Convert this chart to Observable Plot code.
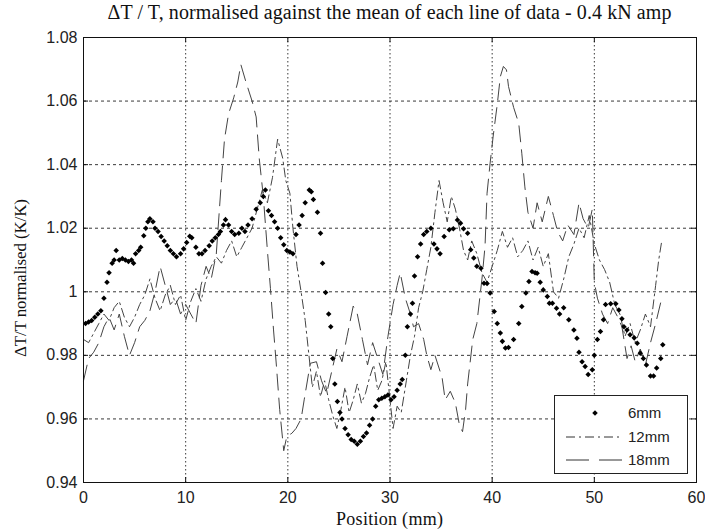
<!DOCTYPE html>
<html><head><meta charset="utf-8">
<script src="https://cdn.jsdelivr.net/npm/d3@7"></script>
<script src="https://cdn.jsdelivr.net/npm/@observablehq/plot@0.6"></script>
<style>
body{margin:0;background:#fff;}
#wrap{position:relative;width:705px;height:532px;overflow:hidden;}
#head{height:27px;}
#overlay{position:absolute;left:0;top:0;pointer-events:none;}
</style></head>
<body><div id="wrap"><div id="head"></div><div id="chart"></div><svg id="overlay" width="705" height="532"></svg></div>
<script>
// ---- data ----
const titleText = "ΔT / T, normalised against the mean of each line of data - 0.4 kN amp";
const xLabel = "Position (mm)";
const yLabel = "ΔT/T normalised (K/K)";
const xTicks = [0,10,20,30,40,50,60];
const yTicks = [0.94,0.96,0.98,1.00,1.02,1.04,1.06,1.08];
const seriesNames = ["6mm","12mm","18mm"];

const mm6X = [0.2,0.5,0.8,1.1,1.4,1.7,2.0,2.3,2.5,2.8,3.0,3.2,3.5,3.8,4.1,4.4,4.7,4.9,5.1,5.4,5.6,5.9,6.1,6.3,6.5,6.8,7.0,7.3,7.6,7.9,8.2,8.5,8.8,9.1,9.5,9.8,10.1,10.4,10.6,11.0,11.3,11.6,11.9,12.3,12.6,12.9,13.2,13.4,13.7,13.9,14.2,14.5,14.8,15.2,15.5,15.8,16.1,16.5,16.9,17.3,17.6,17.8,18.1,18.4,18.7,19.0,19.3,19.6,19.9,20.2,20.5,20.8,21.1,21.4,21.7,22.1,22.3,22.5,22.9,23.2,23.4,23.7,24.0,24.2,24.4,24.6,24.85,25.1,25.3,25.6,25.9,26.2,26.5,26.8,27.1,27.4,27.7,28.0,28.3,28.6,28.9,29.2,29.5,29.8,30.1,30.4,30.7,31.0,31.2,31.5,31.7,32.0,32.2,32.4,32.7,33.0,33.3,33.6,34.0,34.3,34.6,34.9,35.3,35.8,36.2,36.6,36.9,37.2,37.6,37.9,38.2,38.5,38.9,39.2,39.5,39.8,40.2,40.5,40.8,41.0,41.3,41.6,42.1,42.6,42.9,43.3,43.6,43.9,44.2,44.4,44.7,45.0,45.4,45.6,45.9,46.3,46.6,47.0,47.5,48.0,48.3,48.5,48.8,49.1,49.4,49.8,50.0,50.3,50.6,50.9,51.1,51.6,52.1,52.4,52.7,52.9,53.2,53.5,53.9,54.2,54.5,54.8,55.1,55.5,55.8,56.1,56.5,56.7];
const mm6Y = [0.990,0.9905,0.991,0.992,0.993,0.994,0.998,1.003,1.006,1.009,1.010,1.013,1.010,1.0105,1.010,1.0095,1.010,1.009,1.012,1.013,1.014,1.0176,1.020,1.022,1.023,1.022,1.020,1.019,1.0174,1.016,1.0145,1.013,1.012,1.011,1.012,1.0135,1.0155,1.0175,1.017,1.014,1.012,1.012,1.013,1.0145,1.016,1.017,1.018,1.019,1.021,1.0227,1.021,1.019,1.018,1.0184,1.020,1.019,1.021,1.023,1.026,1.028,1.030,1.032,1.0255,1.024,1.022,1.020,1.017,1.0148,1.013,1.0125,1.012,1.018,1.021,1.024,1.028,1.032,1.0315,1.029,1.025,1.0184,1.009,0.9998,0.993,0.989,0.979,0.971,0.9655,0.962,0.960,0.957,0.955,0.9535,0.953,0.952,0.953,0.9545,0.9556,0.958,0.960,0.964,0.966,0.9665,0.967,0.9675,0.966,0.967,0.969,0.971,0.9724,0.980,0.989,0.993,0.9964,1.005,1.011,1.015,1.018,1.019,1.020,1.015,1.0135,1.012,1.0174,1.0195,1.0198,1.0226,1.0216,1.0198,1.0184,1.0132,1.0106,1.008,1.0074,1.0027,1.0026,0.9996,0.9938,0.990,0.987,0.9844,0.9823,0.9825,0.985,0.990,0.9954,0.9996,1.0032,1.0064,1.006,1.0058,1.003,1.0006,0.9985,0.9964,0.9964,0.9948,0.993,0.995,0.9912,0.988,0.9854,0.981,0.978,0.9765,0.974,0.9755,0.980,0.985,0.9875,0.9912,0.996,0.9962,0.9962,0.9943,0.9915,0.989,0.988,0.9865,0.9855,0.9838,0.9807,0.979,0.977,0.9735,0.9735,0.976,0.979,0.9833];

const mm12X = [0,0.5,1.0,1.5,2.0,2.5,3.0,3.5,4.0,4.5,5.0,5.5,6.0,6.5,7.0,7.5,8.0,8.5,9.0,9.5,10.0,10.5,11.0,11.5,12.0,12.5,13.0,13.5,14.0,14.5,15.0,15.5,16.0,16.5,17.0,17.5,18.0,18.5,19.0,19.5,19.8,20.2,20.5,20.9,21.3,21.7,22.0,22.4,22.8,23.2,23.6,24.0,24.4,24.8,25.2,25.6,26.0,26.4,26.8,27.2,27.6,28.0,28.4,28.8,29.2,29.6,30.0,30.3,30.7,31.1,31.6,32.0,32.4,32.8,33.2,33.6,34.0,34.4,34.8,35.2,35.6,36.0,36.4,36.8,37.2,37.6,38.0,38.5,39.0,39.5,40.0,40.5,41.0,41.5,42.0,42.5,43.0,43.5,44.0,44.5,45.0,45.5,46.0,46.5,47.0,47.5,48.0,48.5,49.0,49.5,50.0,50.5,51.0,51.5,52.0,52.5,53.0,53.5,54.0,54.5,55.0,55.5,56.0,56.3,56.6];
const mm12Y = [0.985,0.984,0.987,0.990,0.993,0.991,0.995,0.997,0.992,0.989,0.992,0.996,0.999,1.004,0.998,0.994,0.999,1.002,0.996,0.999,0.991,0.997,1.001,0.997,1.004,1.008,1.011,1.009,1.013,1.016,1.011,1.014,1.017,1.020,1.026,1.032,1.028,1.036,1.048,1.042,1.035,1.031,1.020,1.008,1.000,0.991,0.982,0.970,0.975,0.967,0.972,0.966,0.961,0.957,0.963,0.970,0.962,0.966,0.971,0.965,0.968,0.973,0.977,0.969,0.972,0.978,0.966,0.957,0.964,0.962,0.972,0.980,0.986,0.995,1.000,1.007,1.014,1.025,1.035,1.028,1.022,1.030,1.026,1.020,1.013,1.010,1.016,1.012,1.006,1.003,1.008,1.013,1.019,1.014,1.017,1.011,1.013,1.016,1.010,1.014,1.008,1.012,1.000,0.998,1.004,1.011,1.015,1.020,1.017,1.024,1.015,1.010,1.007,1.003,0.996,0.993,0.986,0.990,0.984,0.988,0.993,0.989,1.002,1.010,1.016];

const mm18X = [0,0.5,1.0,1.5,2.0,2.5,3.0,3.5,4.0,4.5,5.0,5.5,6.0,6.5,7.0,7.5,8.0,8.5,9.0,9.5,10.0,10.5,11.0,11.5,12.0,12.5,13.0,13.5,13.8,14.2,14.7,15.1,15.4,15.9,16.5,16.9,17.2,17.6,18.0,18.3,18.6,18.9,19.2,19.6,19.9,20.4,20.8,21.3,21.6,22.2,22.8,23.3,23.8,24.3,24.8,25.3,25.8,26.4,26.8,27.3,27.8,28.3,28.8,29.3,29.8,30.3,30.7,31.0,31.5,32.0,32.3,32.8,33.3,33.6,34.0,34.4,35.1,35.4,35.9,36.4,36.8,37.1,37.4,37.6,38.1,38.5,39.0,39.3,39.5,39.8,40.1,40.5,40.8,41.1,41.4,41.6,42.1,42.6,42.9,43.2,43.5,44.0,44.4,44.9,45.5,46.0,46.4,46.9,47.4,48.0,48.5,48.9,49.4,49.8,50.0,50.3,50.8,51.3,51.8,52.3,52.7,53.2,53.6,54.0,54.5,55.0,55.5,56.0,56.6];
const mm18Y = [0.972,0.979,0.981,0.984,0.989,0.992,0.988,0.993,0.986,0.980,0.984,0.989,0.991,0.994,1.000,1.008,1.002,0.996,0.998,0.993,0.996,0.993,0.990,1.002,1.008,1.004,1.012,1.035,1.048,1.056,1.061,1.066,1.0715,1.066,1.060,1.055,1.042,1.030,1.013,1.001,0.988,0.976,0.963,0.950,0.9545,0.9555,0.957,0.960,0.966,0.9775,0.978,0.972,0.968,0.975,0.982,0.978,0.986,0.9955,0.993,0.985,0.977,0.984,0.979,0.974,0.986,0.996,1.002,1.006,0.998,0.993,0.989,0.990,0.985,0.980,0.9755,0.980,0.973,0.966,0.9687,0.965,0.958,0.956,0.963,0.971,0.985,0.990,1.004,1.0143,1.031,1.0405,1.049,1.059,1.0677,1.0709,1.0698,1.0646,1.058,1.053,1.0436,1.033,1.025,1.020,1.028,1.022,1.030,1.024,1.019,1.016,1.021,1.018,1.028,1.023,1.020,1.026,1.003,0.998,0.993,0.990,0.995,0.992,0.989,0.979,0.983,0.978,0.982,0.977,0.984,0.990,0.998];

// ---- build tables ----
const d6 = mm6X.map((x,i)=>({x, y: mm6Y[i]}));
const d12 = mm12X.map((x,i)=>({x, y: mm12Y[i]}));
const d18 = mm18X.map((x,i)=>({x, y: mm18Y[i]}));

const W = 705, H = 505, mL = 83, mR = 9, mT = 10, mB = 50;
const innerW = W - mL - mR, innerH = H - mT - mB, tick = 5;
const fmt = d => String(+d.toFixed(2));
const dash12 = "9,4,2,4", dash18 = "16,8";
const serif = '"Liberation Serif","Times New Roman","DejaVu Serif",serif';
const sans = '"Liberation Sans",Arial,sans-serif';

const chart = Plot.plot({
  width: W, height: H,
  marginLeft: mL, marginRight: mR, marginTop: mT, marginBottom: mB,
  style: {fontFamily: sans, fontSize: "16px", color: "#222", background: "#fff"},
  x: {domain: [0,60]},
  y: {domain: [0.94,1.08]},
  marks: [
    Plot.ruleY(yTicks.slice(1,-1), {y: d=>d, stroke: "#222", strokeWidth: 0.9, strokeDasharray: "3,3"}),
    Plot.ruleX(xTicks.slice(1,-1), {x: d=>d, stroke: "#222", strokeWidth: 0.9, strokeDasharray: "1.5,2.5"}),
    Plot.ruleX(xTicks, {x: d=>d, insetTop: innerH - tick, stroke: "#111"}),
    Plot.ruleX(xTicks, {x: d=>d, insetBottom: innerH - tick, stroke: "#111"}),
    Plot.ruleY(yTicks, {y: d=>d, insetRight: innerW - tick, stroke: "#111"}),
    Plot.ruleY(yTicks, {y: d=>d, insetLeft: innerW - tick, stroke: "#111"}),
    Plot.line(d18, {x: "x", y: "y", stroke: "#444", strokeWidth: 1, strokeDasharray: dash18}),
    Plot.line(d12, {x: "x", y: "y", stroke: "#444", strokeWidth: 1, strokeDasharray: dash12}),
    Plot.dot(d6, {x: "x", y: "y", symbol: "square", rotate: 45, r: 2.2, fill: "#000", stroke: "none"}),
    Plot.frame({stroke: "#111", strokeWidth: 1}),
    Plot.axisX(xTicks, {tickSize: 0, tickPadding: 9, tickFormat: fmt, label: null}),
    Plot.axisY(yTicks, {tickSize: 0, tickPadding: 6, tickFormat: fmt, label: null})
  ]
});
document.getElementById("chart").appendChild(chart);

// ---- title, axis labels and legend (overlay) ----
const ov = d3.select("#overlay");
const cx = mL + innerW / 2;
ov.append("text").attr("x", cx).attr("y", 19).attr("text-anchor","middle")
  .attr("font-family", serif).attr("font-size", 20).attr("fill","#111")
  .attr("textLength", 564).attr("lengthAdjust","spacing").text(titleText);
ov.append("text").attr("x", cx).attr("y", 525).attr("text-anchor","middle")
  .attr("font-family", serif).attr("font-size", 18).attr("fill","#111")
  .attr("textLength", 107).attr("lengthAdjust","spacing").text(xLabel);
ov.append("text").attr("transform", "translate(26,278) rotate(-90)").attr("text-anchor","middle")
  .attr("font-family", serif).attr("font-size", 17).attr("fill","#111")
  .attr("textLength", 158).attr("lengthAdjust","spacing").text(yLabel);

const lg = ov.append("g").attr("transform","translate(554,395)");
lg.append("rect").attr("x",0.5).attr("y",0.5).attr("width",133).attr("height",78).attr("fill","#fff").attr("stroke","#222");
const rows = [18, 42, 65];
seriesNames.forEach((name,i)=>{
  const g = lg.append("g").attr("transform",`translate(0,${rows[i]})`);
  if (i===0) g.append("path").attr("d", d3.symbol(d3.symbolSquare, 15)()).attr("transform","translate(41,0) rotate(45)").attr("fill","#000");
  else g.append("line").attr("x1",12).attr("x2",68).attr("stroke","#333").attr("stroke-width",1).attr("stroke-dasharray", i===1 ? dash12 : "23,10");
  g.append("text").attr("x",74).attr("dy","0.35em").attr("font-family",sans).attr("font-size",15).attr("fill","#222").text(name);
});
</script></body></html>
